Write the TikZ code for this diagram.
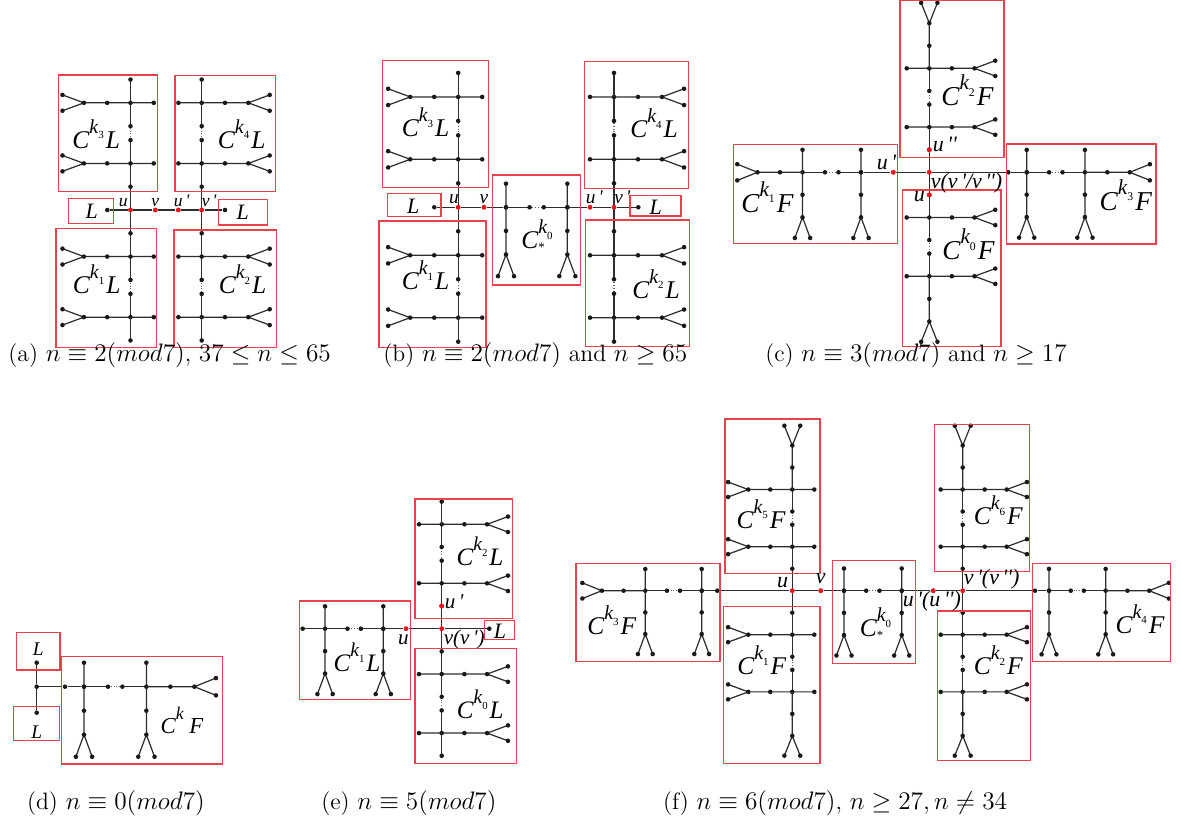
\documentclass[tikz,border=0pt]{standalone}
\usepackage{amsmath,amssymb}
\usepackage{fontspec}
\newfontfamily\tmsfont{Liberation Serif}
\definecolor{boxred}{HTML}{E8434D}
\definecolor{vred}{HTML}{E8141E}
\pgfdeclarelayer{top}
\pgfsetlayers{main,top}
\newcommand\ck[3]{C\rlap{\raisebox{-0.1em}{\scalebox{0.5}{\upshape #3}}}\raisebox{0.6em}{\scalebox{0.78}{k\raisebox{-0.3em}{\scalebox{0.55}{\upshape #1}}}}\kern0.08em#2}

\begin{document}
\begin{tikzpicture}[x=0.02cm,y=-0.02cm,
  every pic/.style={transform shape},
  link/.style={draw=black!82,line width=0.7pt},
  gap/.style={draw=black!60,line width=0.6pt,densely dotted},
  vtx/.style={fill=black!90},
  dot/.style={circle,fill=black!90,inner sep=0pt,minimum size=2.6pt},
  rdot/.style={circle,fill=vred,inner sep=0pt,minimum size=2.8pt},
  redbox/.style={draw=boxred,line width=0.65pt},
  lab/.style={font=\tmsfont\itshape\fontsize{#1}{#1}\selectfont,inner sep=0pt,anchor=base},
  vlab/.style={font=\tmsfont\itshape\fontsize{#1}{#1}\selectfont,inner sep=0pt,anchor=base west},
  capt/.style={font=\fontsize{13.5}{16}\selectfont,inner sep=0pt,anchor=base west},
  sc/.style={x=#1,y=-#1},
  pics/tee/.style={code={
    \draw[link] (-1,0) -- (2,0) -- (2.92,0.34) (2,0) -- (2.92,-0.34);
    \foreach \a/\b in {-1/0,0/0,1/0,2/0,2.92/0.34,2.92/-0.34}
      \fill[vtx] (\a,\b) circle (1.3pt);
  }},
  pics/core/.style={code={
    \draw[link] (0,0) -- (1,0) (1.6,0) -- (2.6,0);
    \draw[gap] (1,0) -- (1.6,0);
    \fill[vtx] (1,0) circle (1.3pt) (1.6,0) circle (1.3pt);
    \pic[rotate=#1] at (0,0) {tee};
    \pic[rotate=#1] at (2.6,0) {tee};
  }},
  pics/lchain/.style={code={
    \pic at (0,0) {core=#1};
    \draw[link] (2.6,0) -- (3.6,0);
    \fill[vtx] (3.6,0) circle (1.3pt);
  }},
  pics/fchain/.style={code={
    \pic at (0,0) {core=#1};
    \draw[link] (2.6,0) -- (4.6,0) -- (5.5,0.36) (4.6,0) -- (5.5,-0.36);
    \foreach \a/\b in {3.6/0,4.6/0,5.5/0.36,5.5/-0.36}
      \fill[vtx] (\a,\b) circle (1.3pt);
  }},
  pics/lblk/.style={code={
    \draw[link] (0,0) -- (2,0);
    \fill[vtx] (1,0) circle (1.3pt);
    \pic at (2,0) {lchain=#1};
  }},
  pics/fblk/.style={code={
    \draw[link] (0,0) -- (2,0);
    \fill[vtx] (1,0) circle (1.3pt);
    \pic at (2,0) {fchain=#1};
  }},
]
\useasboundingbox (0,0) rectangle (1181,827);

% (a)
\begin{pgfonlayer}{top}
\node[rdot] (au) at (130.5,210) {};
\node[rdot] (av) at (155.3,210) {};
\node[rdot] (aup) at (178.3,210) {};
\node[rdot] (avp) at (201.7,210) {};
\end{pgfonlayer}
\node[dot] (aL) at (107.3,210) {};
\node[dot] (aR) at (225,210) {};
\draw[link] (aL) -- (au) -- (av) -- (aup) -- (avp) -- (aR);
\pic[sc=0.466cm,rotate=90] at (au) {lblk=90};
\pic[sc=0.466cm,rotate=-90] at (au) {lblk=-90};
\pic[sc=0.466cm,rotate=90] at (avp) {lblk=-90};
\pic[sc=0.466cm,rotate=-90] at (avp) {lblk=90};
\draw[redbox] (58.3,75) rectangle (157.3,191.7);
\draw[redbox] (175,75.7) rectangle (275.3,191.7);
\draw[redbox] (68.3,198.3) rectangle (113.3,223.3);
\draw[redbox] (218.3,199.3) rectangle (267.3,225);
\draw[redbox] (56,228.3) rectangle (156.7,347.3);
\draw[redbox] (174,230) rectangle (276.7,347.3);
\node[lab=14.5] (a3) at (96.2,148.3) {\ck{3}{L}{}};
\node[lab=14.5] (a4) at (241.7,148.3) {\ck{4}{L}{}};
\node[lab=14.5] (a1) at (96.7,294) {\ck{1}{L}{}};
\node[lab=14.5] (a2) at (242.5,294) {\ck{2}{L}{}};
\node[lab=12.5] (aLl) at (91.7,218.3) {L};
\node[lab=12.5] (aRl) at (242.7,219.3) {L};
\node[vlab=10,anchor=base] (aul) at (123.3,206.7) {u};
\node[vlab=10,anchor=base] (avl) at (155.3,206.7) {v};
\node[vlab=10] (aupl) at (173.5,206.7) {u\,'};
\node[vlab=10] (avpl) at (201.5,206.7) {v\,'};
\node[capt] (capa) at (8,362) {(a) $n\equiv 2(mod7)$, $37\leq n\leq 65$};

% (b)
\begin{pgfonlayer}{top}
\node[rdot] (bu) at (458.2,207.3) {};
\node[rdot] (bv) at (484,207.3) {};
\node[rdot] (bup) at (590,207.3) {};
\node[rdot] (bvp) at (614,207.3) {};
\end{pgfonlayer}
\node[dot] (bL) at (434.3,207.3) {};
\node[dot] (bR) at (638.3,207.3) {};
\node[dot] (bj1) at (506,207.3) {};
\node[dot] (bj2) at (567.4,207.3) {};
\draw[link] (bL) -- (bu) -- (bv) -- (bj1) (bj2) -- (bup) -- (bvp) -- (bR);
\pic[sc=0.48cm,rotate=90] at (bu) {lblk=90};
\pic[sc=0.48cm,rotate=-90] at (bu) {lblk=-90};
\pic[sc=0.48cm,rotate=90] at (bvp) {lblk=-90};
\pic[sc=0.48cm,rotate=-90] at (bvp) {lblk=90};
\pic[sc=0.472cm] at (bj1) {core=-90};
\draw[redbox] (382.3,60.7) rectangle (488.7,187.3);
\draw[redbox] (387.3,193.3) rectangle (441,216.7);
\draw[redbox] (379,221) rectangle (486,347.3);
\draw[redbox] (584.3,61.7) rectangle (688.3,188.3);
\draw[redbox] (630,195.7) rectangle (681,216);
\draw[redbox] (585.7,220) rectangle (689.3,346.7);
\draw[redbox] (492.7,175) rectangle (580.7,285);
\node[lab=14.5] (b3) at (425.5,136.7) {\ck{3}{L}{}};
\node[lab=14.5] (b4) at (654,137.7) {\ck{4}{L}{}};
\node[lab=14.5] (b1) at (425.5,290) {\ck{1}{L}{}};
\node[lab=14.5] (b2) at (656,298.3) {\ck{2}{L}{}};
\node[lab=14.5] (b0) at (538,249) {\ck{0}{}{*}};
\node[lab=12.5] (bLl) at (413.3,213.3) {L};
\node[lab=12.5] (bRl) at (655.7,214.3) {L};
\node[vlab=11,anchor=base] (bul) at (454,204) {u};
\node[vlab=11,anchor=base] (bvl) at (484,204) {v};
\node[vlab=11] (bupl) at (585.5,204) {u\,'};
\node[vlab=11] (bvpl) at (614,204) {v\,'};
\node[capt] (capb) at (383,362) {(b) $n\equiv 2(mod7)$ and $n\geq 65$};

% (c)
\begin{pgfonlayer}{top}
\node[rdot] (cv) at (929.3,172.3) {};
\node[rdot] (cup) at (893.3,172.3) {};
\node[rdot] (cupp) at (929.3,149.7) {};
\node[rdot] (cu) at (929.3,194.9) {};
\end{pgfonlayer}
\node[dot] (cj1) at (861,172.3) {};
\node[dot] (ce3) at (1008.3,172.3) {};
\node[dot] (cj3) at (1026.7,172.3) {};
\draw[link] (cj1) -- (cup) -- (cv) -- (ce3) -- (cj3);
\pic[sc=0.452cm,rotate=90] at (cv) {fblk=-90};
\pic[sc=0.452cm,rotate=-90] at (cv) {fblk=90};
\pic[sc=0.45cm,rotate=180] at (cj1) {fchain=90};
\pic[sc=0.448cm] at (cj3) {fchain=-90};
\draw[redbox] (900,0.5) rectangle (1004,157.7);
\draw[redbox] (733.3,144.3) rectangle (897.3,243.3);
\draw[redbox] (1006.7,144) rectangle (1156,244);
\draw[redbox] (902.7,190) rectangle (1001,346.7);
\node[lab=15.5] (c2) at (967.5,106) {\ck{2}{F}{}};
\node[lab=15.5] (c1) at (767.5,212.7) {\ck{1}{F}{}};
\node[lab=15.5] (c3) at (1125.8,210.7) {\ck{3}{F}{}};
\node[lab=15.5] (c0) at (968.5,260) {\ck{0}{F}{}};
\node[vlab=12.5] (cuppl) at (932.5,152) {u\,''};
\node[vlab=12.5] (cupl) at (876.5,170) {u\,'};
\node[vlab=12.5] (cvl) at (930.5,188.3) {v(v\,'/v\,'')};
\node[vlab=12.5] (cul) at (913.5,202) {u};
\node[capt] (capc) at (765,362) {(c) $n\equiv 3(mod7)$ and $n\geq 17$};

% (d)
\node[dot] (dc) at (36.7,686.7) {};
\node[dot] (dt) at (36.7,662.7) {};
\node[dot] (db) at (36.7,712.7) {};
\node[dot] (de) at (65,686.7) {};
\node[dot] (dj) at (84,686.7) {};
\draw[link] (dt) -- (dc) -- (db) (dc) -- (de) -- (dj);
\pic[sc=0.48cm] at (dj) {fchain=-90};
\draw[redbox] (16.7,632.7) rectangle (60,670);
\draw[redbox] (13.3,706.7) rectangle (59.3,740.7);
\draw[redbox] (61.7,656.7) rectangle (222.7,764);
\node[lab=13] (dk) at (182,733.3) {\ck{}{\,F}{}};
\node[lab=11] (dLt) at (38.3,656) {L};
\node[lab=11] (dLb) at (36.7,738.3) {L};
\node[capt] (capd) at (26.7,809) {(d) $n\equiv 0(mod7)$};

% (e)
\begin{pgfonlayer}{top}
\node[rdot] (ev) at (441.7,628.7) {};
\node[rdot] (eu) at (406,628.7) {};
\node[rdot] (eup) at (441.7,606) {};
\end{pgfonlayer}
\node[dot] (eL) at (489.3,628.7) {};
\node[dot] (ej) at (383.3,628.7) {};
\draw[link] (ej) -- (eu) -- (ev) -- (eL);
\pic[sc=0.454cm,rotate=90] at (ev) {lblk=-90};
\pic[sc=0.454cm,rotate=-90] at (ev) {lblk=90};
\pic[sc=0.448cm,rotate=180] at (ej) {lchain=90};
\draw[redbox] (415,499) rectangle (512.3,618.3);
\draw[redbox] (299.3,601) rectangle (410.7,699.3);
\draw[redbox] (484.3,620.7) rectangle (514.3,639.3);
\draw[redbox] (415,648.3) rectangle (516.3,763.3);
\node[lab=14.3] (e2) at (480,565.7) {\ck{2}{L}{}};
\node[lab=14.3] (e1) at (357,671.7) {\ck{1}{L}{}};
\node[lab=14.3] (e0) at (480.3,718.3) {\ck{0}{L}{}};
\node[lab=12.5] (eLl) at (500,638.3) {L};
\node[vlab=12,anchor=base] (eul) at (403.3,644.3) {u};
\node[vlab=12] (evl) at (443.5,644.3) {v(v\,')};
\node[vlab=12] (eupl) at (444.5,608.3) {u\,'};
\node[capt] (cape) at (321,809) {(e) $n\equiv 5(mod7)$};

% (f)
\begin{pgfonlayer}{top}
\node[rdot] (fu) at (792.3,590.7) {};
\node[rdot] (fv) at (820.7,590.7) {};
\node[rdot] (fup) at (933.3,590.7) {};
\node[rdot] (fvp) at (962.7,590.7) {};
\end{pgfonlayer}
\node[dot] (fe3) at (717.3,590.7) {};
\node[dot] (fj3) at (701.7,590.7) {};
\node[dot] (fj1) at (844,590.7) {};
\node[dot] (fj2) at (901.7,590.7) {};
\node[dot] (fe4) at (1035,590.7) {};
\node[dot] (fj4) at (1049,590.7) {};
\draw[link] (fj3) -- (fe3) -- (fu) -- (fv) -- (fj1) (fj2) -- (fup) -- (fvp) -- (fe4) -- (fj4);
\pic[sc=0.44cm,rotate=90] at (fu) {fblk=90};
\pic[sc=0.44cm,rotate=-90] at (fu) {fblk=-90};
\pic[sc=0.44cm,rotate=90] at (fvp) {fblk=-90};
\pic[sc=0.44cm,rotate=-90] at (fvp) {fblk=90};
\pic[sc=0.444cm] at (fj1) {core=-90};
\pic[sc=0.434cm,rotate=180] at (fj3) {fchain=90};
\pic[sc=0.436cm] at (fj4) {fchain=-90};
\draw[redbox] (725,419) rectangle (820,573.3);
\draw[redbox] (576,563.3) rectangle (720,661.7);
\draw[redbox] (723.3,606.7) rectangle (820,763.3);
\draw[redbox] (832.3,560.7) rectangle (915.7,663.3);
\draw[redbox] (934.3,424.3) rectangle (1029.3,571.7);
\draw[redbox] (937.7,611) rectangle (1030.3,760.7);
\draw[redbox] (1032.3,563.3) rectangle (1170.7,661.7);
\node[lab=14.5] (f5) at (761,528.3) {\ck{5}{F}{}};
\node[lab=14.5] (f3) at (611.7,635) {\ck{3}{F}{}};
\node[lab=14.5] (f1) at (761.7,675) {\ck{1}{F}{}};
\node[lab=14.5] (f6) at (998.3,525) {\ck{6}{F}{}};
\node[lab=14.5] (f2) at (998.3,675) {\ck{2}{F}{}};
\node[lab=14.5] (f4) at (1140,633.3) {\ck{4}{F}{}};
\node[lab=14.5] (f0) at (876.5,636.7) {\ck{0}{}{*}};
\node[vlab=12.5,anchor=base] (ful) at (782.5,587.7) {u};
\node[vlab=12.5,anchor=base] (fvl) at (820.8,583.3) {v};
\node[vlab=12.5] (fupl) at (902.5,607) {u\,'(u\,'')};
\node[vlab=12.5] (fvpl) at (963.5,585) {v\,'(v\,'')};
\node[capt] (capf) at (662.7,809) {(f) $n\equiv 6(mod7)$, $n\geq 27, n\neq 34$};
\end{tikzpicture}
\end{document}
